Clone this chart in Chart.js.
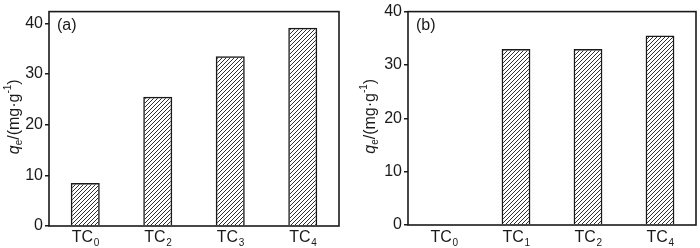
<!DOCTYPE html>
<html>
<head>
<meta charset="utf-8">
<script src="https://cdn.jsdelivr.net/npm/chart.js@4.4.1/dist/chart.umd.min.js"></script>
<style>
  body { margin: 0; background: #fff; }
  #wrapA { position: absolute; left: 0; top: 0; width: 345px; height: 248px; }
  #wrapB { position: absolute; left: 350px; top: 0; width: 350px; height: 248px; }
</style>
</head>
<body>
<div id="wrapA"><canvas id="chartA"></canvas></div>
<div id="wrapB"><canvas id="chartB"></canvas></div>
<script>
// panel (a)
let labelsA = ['0', '2', '3', '4'];
let valuesA = [8.5, 25.5, 33.5, 39.1];
let yTicksA = [0, 10, 20, 30, 40];

// panel (b)
let labelsB = ['0', '1', '2', '4'];
let valuesB = [0, 33, 33, 35.5];
let yTicksB = [0, 10, 20, 30, 40];

let ink = '#1a1a1a';
let fontName = '"Liberation Sans", Arial, sans-serif';

function makeHatch() {
    let c = document.createElement('canvas');
    c.width = 4;
    c.height = 4;
    let g = c.getContext('2d');
    g.strokeStyle = ink;
    g.lineWidth = 0.9;
    g.beginPath();
    g.moveTo(0, 4); g.lineTo(4, 0);
    g.moveTo(-1, 1); g.lineTo(1, -1);
    g.moveTo(3, 5); g.lineTo(5, 3);
    g.stroke();
    return g.createPattern(c, 'repeat');
}

// draws frame, subscript x labels, y title and panel tag
function panelPlugin(tag, labels, titleX) {
    return {
        id: 'panel' + tag,
        afterDraw(chart) {
            let ctx = chart.ctx;
            let a = chart.chartArea;
            ctx.save();
            ctx.strokeStyle = ink;
            ctx.lineWidth = 1.6;
            ctx.strokeRect(a.left, a.top, a.right - a.left, a.bottom - a.top);

            ctx.fillStyle = ink;
            ctx.textBaseline = 'alphabetic';
            let xs = chart.scales.x;
            labels.forEach((sub, i) => {
                let x = xs.getPixelForTick(i);
                ctx.font = '16px ' + fontName;
                let w1 = ctx.measureText('TC').width;
                ctx.font = '10px ' + fontName;
                let w2 = ctx.measureText(sub).width;
                let x0 = x - (w1 + w2) / 2;
                ctx.font = '16px ' + fontName;
                ctx.textAlign = 'left';
                ctx.fillText('TC', x0, 242);
                ctx.font = '10px ' + fontName;
                ctx.fillText(sub, x0 + w1 + 0.5, 246);
            });

            ctx.font = '16px ' + fontName;
            ctx.textAlign = 'left';
            ctx.fillText('(' + tag + ')', a.left + 8, a.top + 18);

            // rotated y title: q_e/(mg·g^-1)
            let cy = (a.top + a.bottom) / 2 - 2;
            ctx.translate(titleX, cy);
            ctx.rotate(-Math.PI / 2);
            let parts = [
                { t: 'q', f: 'italic 16px ' + fontName, dy: 0 },
                { t: 'e', f: '10px ' + fontName, dy: 4 },
                { t: '/(mg·g', f: '16px ' + fontName, dy: 0 },
                { t: '-1', f: '10px ' + fontName, dy: -7 },
                { t: ')', f: '16px ' + fontName, dy: 0 }
            ];
            let total = 0;
            parts.forEach(p => { ctx.font = p.f; p.w = ctx.measureText(p.t).width; total += p.w; });
            let px = -total / 2;
            ctx.textBaseline = 'middle';
            parts.forEach(p => {
                ctx.font = p.f;
                ctx.fillText(p.t, px, 5 + p.dy);
                px += p.w;
            });
            ctx.restore();
        }
    };
}

function buildChart(id, labels, values, yTicks, yMax, yWidth, padRight, bottomAxis, titleX, tag) {
    let ctx = document.getElementById(id).getContext('2d');
    return new Chart(ctx, {
        type: 'bar',
        data: {
            labels: labels,
            datasets: [{
                data: values,
                backgroundColor: makeHatch(),
                borderColor: ink,
                borderWidth: 1.5,
                barPercentage: 0.4,
                categoryPercentage: 1.0
            }]
        },
        options: {
            responsive: true,
            maintainAspectRatio: false,
            animation: false,
            layout: { padding: { top: 5, right: padRight, left: 0, bottom: 0 } },
            plugins: { legend: { display: false }, tooltip: { enabled: false } },
            scales: {
                x: {
                    grid: { display: false },
                    border: { display: false },
                    ticks: { display: false },
                    afterFit(scale) { scale.height = bottomAxis; }
                },
                y: {
                    min: 0,
                    max: yMax,
                    afterBuildTicks(scale) { scale.ticks = yTicks.map(v => ({ value: v })); },
                    grid: { drawOnChartArea: false, tickLength: 4, color: ink, lineWidth: 1.5 },
                    border: { display: false },
                    ticks: {
                        color: ink,
                        padding: 2,
                        font: { size: 16, family: fontName }
                    },
                    afterFit(scale) { scale.width = yWidth; }
                }
            }
        },
        plugins: [panelPlugin(tag, labels, titleX)]
    });
}

buildChart('chartA', labelsA, valuesA, yTicksA, 42.3, 49, 6, 22, 10, 'a');
buildChart('chartB', labelsB, valuesB, yTicksB, 40, 58, 4, 23, 16, 'b');
</script>
</body>
</html>
